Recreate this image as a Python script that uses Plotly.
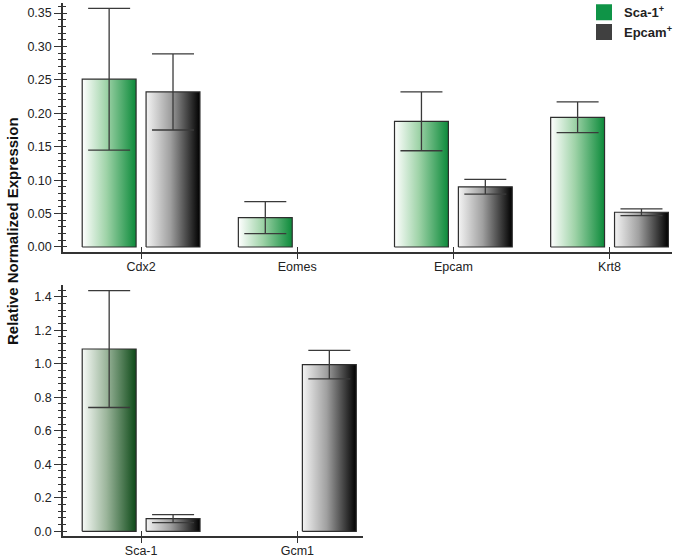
import plotly.graph_objects as go

# ---------------- data ----------------
top_categories = ["Cdx2", "Eomes", "Epcam", "Krt8"]
top_sca = [0.251, 0.044, 0.188, 0.194]
top_sca_err = [0.106, 0.024, 0.044, 0.023]
top_epcam = [0.232, None, 0.090, 0.052]
top_epcam_err = [0.057, None, 0.011, 0.005]

bottom_categories = ["Sca-1", "Gcm1"]
bot_sca = [1.088, None]
bot_sca_err = [0.349, None]
bot_epcam = [0.076, 0.995]
bot_epcam_err = [0.024, 0.085]

series_names = ["Sca-1<sup>+</sup>", "Epcam<sup>+</sup>"]
legend_colors = ["#0f9447", "#404040"]

# ---------------- style ----------------
FONT = "Arial, Liberation Sans, sans-serif"
AX = "#333333"
BAR_W = 0.345
GAP = 0.064
OFF = GAP / 2 + BAR_W / 2

green_top = [[0, "#ffffff"], [0.45, "#9fd3a8"], [1, "#0c8a3a"]]
green_bot = [[0, "#f7faf7"], [0.45, "#9bb59b"], [1, "#0e4a18"]]
grey_cs = [[0, "#f4f4f4"], [0.45, "#a0a0a0"], [1, "#000000"]]

fig = go.Figure()


def add_bar(xc, v, err, cs, xa, ya):
    if v is None:
        return
    x0, x1 = xc - BAR_W / 2, xc + BAR_W / 2
    fig.add_trace(go.Scatter(
        x=[x0, x0, x1, x1, x0], y=[0, v, v, 0, 0],
        xaxis=xa, yaxis=ya, mode="lines", fill="toself",
        fillgradient=dict(type="horizontal", colorscale=cs),
        line=dict(color="#2e2e2e", width=1.2),
        showlegend=False, hoverinfo="skip"))
    if err is not None:
        fig.add_trace(go.Scatter(
            x=[xc], y=[v], xaxis=xa, yaxis=ya, mode="markers",
            marker=dict(size=1, opacity=0),
            error_y=dict(type="data", array=[err], color="#3a3a3a",
                         thickness=1.3, width=21),
            showlegend=False, hoverinfo="skip"))


for i, c in enumerate(top_categories):
    add_bar(i - OFF, top_sca[i], top_sca_err[i], green_top, "x", "y")
    add_bar(i + OFF, top_epcam[i], top_epcam_err[i], grey_cs, "x", "y")
for i, c in enumerate(bottom_categories):
    add_bar(i - OFF, bot_sca[i], bot_sca_err[i], green_bot, "x2", "y2")
    add_bar(i + OFF, bot_epcam[i], bot_epcam_err[i], grey_cs, "x2", "y2")

# invisible traces to activate overlay axes (for crossing ticks)
for xa, ya in [("x", "y3"), ("x3", "y"), ("x2", "y4"), ("x4", "y2")]:
    fig.add_trace(go.Scatter(x=[0], y=[0], xaxis=xa, yaxis=ya, mode="markers",
                             marker=dict(size=1, opacity=0),
                             showlegend=False, hoverinfo="skip"))

# legend entries
for name, col in zip(series_names, legend_colors):
    fig.add_trace(go.Scatter(x=[None], y=[None], mode="markers", name=name,
                             marker=dict(symbol="square", size=16, color=col),
                             xaxis="x", yaxis="y"))

top_xdom = [63 / 675, 672 / 675]
bot_xdom = [63 / 675, 363 / 675]
top_ydom = [1 - 252 / 558, 1 - 3 / 558]
bot_ydom = [1 - 536 / 558, 1 - 285 / 558]
top_yr = [-0.0075, 0.365]
bot_yr = [-0.028, 1.47]
top_xr = [-0.5, 3.4]
bot_xr = [-0.5, 1.42]

tf = dict(family=FONT, size=12.5, color="#222222")


def xax(dom, rng, cats, anchor):
    return dict(domain=dom, range=rng, anchor=anchor, automargin=False,
                tickvals=list(range(len(cats))), ticktext=cats,
                showline=True, linecolor=AX, linewidth=1.5,
                ticks="outside", ticklen=5, tickcolor=AX, tickwidth=1.2,
                ticklabelstandoff=-3,
                showgrid=False, zeroline=False, tickfont=tf, fixedrange=True)


def xover(rng, cats, over, anchor):
    return dict(overlaying=over, anchor=anchor, range=rng, automargin=False,
                tickvals=list(range(len(cats))), showticklabels=False,
                showline=False, ticks="inside", ticklen=5, tickcolor=AX,
                tickwidth=1.2, showgrid=False, zeroline=False)


def yax(dom, rng, dt, mdt, fmt, anchor):
    return dict(domain=dom, range=rng, anchor=anchor, dtick=dt, tick0=0,
                automargin=False,
                tickformat=fmt, showline=True, linecolor=AX, linewidth=1.5,
                ticks="outside", ticklen=7, tickcolor=AX, tickwidth=1.2,
                minor=dict(dtick=mdt, tick0=0, ticks="outside", ticklen=3,
                           tickcolor=AX, tickwidth=1),
                showgrid=False, zeroline=False, tickfont=tf, fixedrange=True)


def yover(rng, dt, mdt, over, anchor):
    return dict(overlaying=over, anchor=anchor, side="left", range=rng,
                automargin=False,
                dtick=dt, tick0=0, showticklabels=False, showline=False,
                ticks="inside", ticklen=4, tickcolor=AX, tickwidth=1.2,
                minor=dict(dtick=mdt, tick0=0, ticks="inside", ticklen=3,
                           tickcolor=AX, tickwidth=1),
                showgrid=False, zeroline=False)


fig.update_layout(
    width=675, height=558,
    margin=dict(l=0, r=0, t=0, b=0, autoexpand=False),
    paper_bgcolor="white", plot_bgcolor="rgba(0,0,0,0)",
    font=dict(family=FONT, color="#222222"),
    hovermode=False,
    xaxis=xax(top_xdom, top_xr, top_categories, "y"),
    yaxis=yax(top_ydom, top_yr, 0.05, 0.01, ".2f", "x"),
    xaxis2=xax(bot_xdom, bot_xr, bottom_categories, "y2"),
    yaxis2=yax(bot_ydom, bot_yr, 0.2, 0.04, ".1f", "x2"),
    yaxis3=yover(top_yr, 0.05, 0.01, "y", "x"),
    xaxis3=xover(top_xr, top_categories, "x", "y"),
    yaxis4=yover(bot_yr, 0.2, 0.04, "y2", "x2"),
    xaxis4=xover(bot_xr, bottom_categories, "x2", "y2"),
    legend=dict(x=584 / 675, y=1.005, xanchor="left", yanchor="top",
                font=dict(family=FONT, size=13, color="#222222", weight="bold"),
                bgcolor="rgba(0,0,0,0)", tracegroupgap=0),
    annotations=[dict(text="<b>Relative Normalized Expression</b>",
                      x=12 / 675, y=1 - 231 / 558, xref="paper", yref="paper",
                      xanchor="center", yanchor="middle",
                      textangle=-90, showarrow=False,
                      font=dict(family=FONT, size=15, color="#111111"))],
)

fig.write_html("out.html",
               config={"displayModeBar": False},
               post_script="document.body.style.margin='0';"
                           "document.body.style.padding='0';")
